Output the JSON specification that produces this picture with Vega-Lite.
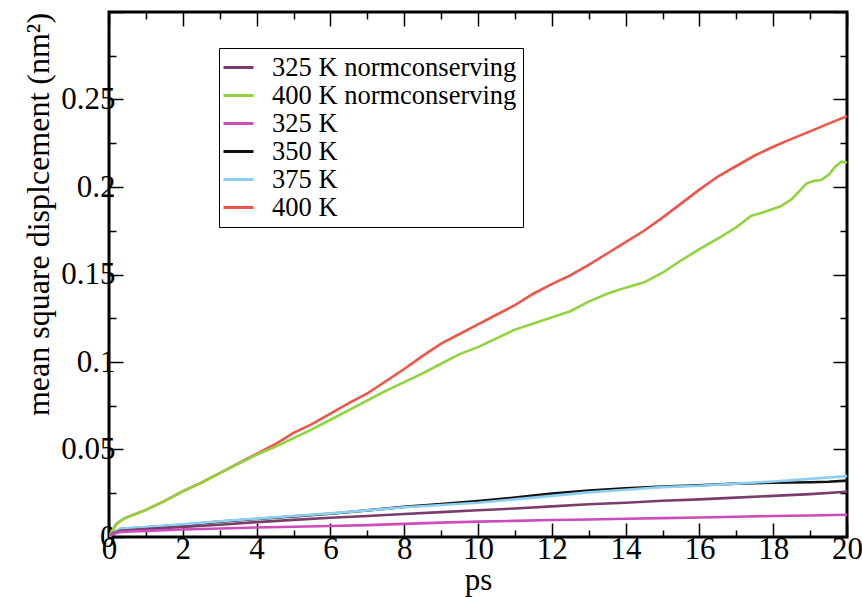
{
  "$schema": "https://vega.github.io/schema/vega-lite/v6.json",
  "width": 738,
  "height": 525,
  "autosize": {"type": "none"},
  "padding": {"left": 109, "top": 12, "right": 15, "bottom": 60},
  "background": "white",
  "config": {
    "font": "Liberation Serif",
    "view": {"stroke": "black", "strokeWidth": 3}
  },
  "data": {"values": [
    {"series": "400 K", "t": 0, "msd": 0},
    {"series": "400 K", "t": 0.1, "msd": 0.004},
    {"series": "400 K", "t": 0.2, "msd": 0.0075},
    {"series": "400 K", "t": 0.4, "msd": 0.0105},
    {"series": "400 K", "t": 0.7, "msd": 0.013},
    {"series": "400 K", "t": 1.0, "msd": 0.0155},
    {"series": "400 K", "t": 1.5, "msd": 0.0205},
    {"series": "400 K", "t": 2.0, "msd": 0.0262},
    {"series": "400 K", "t": 2.5, "msd": 0.031},
    {"series": "400 K", "t": 3.0, "msd": 0.0365},
    {"series": "400 K", "t": 3.5, "msd": 0.042},
    {"series": "400 K", "t": 4.0, "msd": 0.0475},
    {"series": "400 K", "t": 4.5, "msd": 0.053},
    {"series": "400 K", "t": 5.0, "msd": 0.0595},
    {"series": "400 K", "t": 5.5, "msd": 0.0645},
    {"series": "400 K", "t": 6.0, "msd": 0.0705},
    {"series": "400 K", "t": 6.5, "msd": 0.0765},
    {"series": "400 K", "t": 7.0, "msd": 0.082},
    {"series": "400 K", "t": 7.5, "msd": 0.089},
    {"series": "400 K", "t": 8.0, "msd": 0.096},
    {"series": "400 K", "t": 8.5, "msd": 0.1035},
    {"series": "400 K", "t": 9.0, "msd": 0.1105},
    {"series": "400 K", "t": 9.5, "msd": 0.116},
    {"series": "400 K", "t": 10.0, "msd": 0.1215},
    {"series": "400 K", "t": 10.5, "msd": 0.127},
    {"series": "400 K", "t": 11.0, "msd": 0.1325},
    {"series": "400 K", "t": 11.5, "msd": 0.139},
    {"series": "400 K", "t": 12.0, "msd": 0.1445},
    {"series": "400 K", "t": 12.5, "msd": 0.1495},
    {"series": "400 K", "t": 13.0, "msd": 0.1555},
    {"series": "400 K", "t": 13.5, "msd": 0.162},
    {"series": "400 K", "t": 14.0, "msd": 0.1685},
    {"series": "400 K", "t": 14.5, "msd": 0.175},
    {"series": "400 K", "t": 15.0, "msd": 0.1825},
    {"series": "400 K", "t": 15.5, "msd": 0.1905},
    {"series": "400 K", "t": 16.0, "msd": 0.1985},
    {"series": "400 K", "t": 16.5, "msd": 0.206},
    {"series": "400 K", "t": 17.0, "msd": 0.212},
    {"series": "400 K", "t": 17.5, "msd": 0.218},
    {"series": "400 K", "t": 18.0, "msd": 0.223},
    {"series": "400 K", "t": 18.5, "msd": 0.2275},
    {"series": "400 K", "t": 19.0, "msd": 0.2318},
    {"series": "400 K", "t": 19.5, "msd": 0.2362},
    {"series": "400 K", "t": 20.0, "msd": 0.2405},

    {"series": "400 K normconserving", "t": 0, "msd": 0},
    {"series": "400 K normconserving", "t": 0.1, "msd": 0.004},
    {"series": "400 K normconserving", "t": 0.2, "msd": 0.0075},
    {"series": "400 K normconserving", "t": 0.4, "msd": 0.0105},
    {"series": "400 K normconserving", "t": 0.7, "msd": 0.013},
    {"series": "400 K normconserving", "t": 1.0, "msd": 0.0155},
    {"series": "400 K normconserving", "t": 1.5, "msd": 0.0205},
    {"series": "400 K normconserving", "t": 2.0, "msd": 0.026},
    {"series": "400 K normconserving", "t": 2.5, "msd": 0.031},
    {"series": "400 K normconserving", "t": 3.0, "msd": 0.0365},
    {"series": "400 K normconserving", "t": 3.5, "msd": 0.0418},
    {"series": "400 K normconserving", "t": 4.0, "msd": 0.047},
    {"series": "400 K normconserving", "t": 4.5, "msd": 0.0515},
    {"series": "400 K normconserving", "t": 5.0, "msd": 0.0565},
    {"series": "400 K normconserving", "t": 5.5, "msd": 0.0615},
    {"series": "400 K normconserving", "t": 6.0, "msd": 0.067},
    {"series": "400 K normconserving", "t": 6.5, "msd": 0.0725},
    {"series": "400 K normconserving", "t": 7.0, "msd": 0.078},
    {"series": "400 K normconserving", "t": 7.5, "msd": 0.0835},
    {"series": "400 K normconserving", "t": 8.0, "msd": 0.0885},
    {"series": "400 K normconserving", "t": 8.5, "msd": 0.0935},
    {"series": "400 K normconserving", "t": 9.0, "msd": 0.099},
    {"series": "400 K normconserving", "t": 9.5, "msd": 0.1045},
    {"series": "400 K normconserving", "t": 10.0, "msd": 0.1085},
    {"series": "400 K normconserving", "t": 10.5, "msd": 0.1135},
    {"series": "400 K normconserving", "t": 11.0, "msd": 0.1185},
    {"series": "400 K normconserving", "t": 11.5, "msd": 0.122},
    {"series": "400 K normconserving", "t": 12.0, "msd": 0.1255},
    {"series": "400 K normconserving", "t": 12.5, "msd": 0.129},
    {"series": "400 K normconserving", "t": 13.0, "msd": 0.1345},
    {"series": "400 K normconserving", "t": 13.5, "msd": 0.139},
    {"series": "400 K normconserving", "t": 14.0, "msd": 0.1425},
    {"series": "400 K normconserving", "t": 14.5, "msd": 0.1455},
    {"series": "400 K normconserving", "t": 15.0, "msd": 0.151},
    {"series": "400 K normconserving", "t": 15.5, "msd": 0.158},
    {"series": "400 K normconserving", "t": 16.0, "msd": 0.1645},
    {"series": "400 K normconserving", "t": 16.5, "msd": 0.1705},
    {"series": "400 K normconserving", "t": 17.0, "msd": 0.177},
    {"series": "400 K normconserving", "t": 17.4, "msd": 0.1835},
    {"series": "400 K normconserving", "t": 17.8, "msd": 0.186},
    {"series": "400 K normconserving", "t": 18.2, "msd": 0.189},
    {"series": "400 K normconserving", "t": 18.5, "msd": 0.193},
    {"series": "400 K normconserving", "t": 18.7, "msd": 0.1975},
    {"series": "400 K normconserving", "t": 18.9, "msd": 0.202},
    {"series": "400 K normconserving", "t": 19.1, "msd": 0.2035},
    {"series": "400 K normconserving", "t": 19.3, "msd": 0.204},
    {"series": "400 K normconserving", "t": 19.5, "msd": 0.207},
    {"series": "400 K normconserving", "t": 19.7, "msd": 0.212},
    {"series": "400 K normconserving", "t": 19.85, "msd": 0.2145},
    {"series": "400 K normconserving", "t": 20.0, "msd": 0.214},

    {"series": "350 K", "t": 0, "msd": 0},
    {"series": "350 K", "t": 0.1, "msd": 0.002},
    {"series": "350 K", "t": 0.3, "msd": 0.0045},
    {"series": "350 K", "t": 0.6, "msd": 0.005},
    {"series": "350 K", "t": 1, "msd": 0.0055},
    {"series": "350 K", "t": 2, "msd": 0.007},
    {"series": "350 K", "t": 3, "msd": 0.0088},
    {"series": "350 K", "t": 4, "msd": 0.0103},
    {"series": "350 K", "t": 5, "msd": 0.0118},
    {"series": "350 K", "t": 6, "msd": 0.0133},
    {"series": "350 K", "t": 7, "msd": 0.0152},
    {"series": "350 K", "t": 8, "msd": 0.0172},
    {"series": "350 K", "t": 9, "msd": 0.0188},
    {"series": "350 K", "t": 10, "msd": 0.0206},
    {"series": "350 K", "t": 11, "msd": 0.0225},
    {"series": "350 K", "t": 12, "msd": 0.0248},
    {"series": "350 K", "t": 13, "msd": 0.0265},
    {"series": "350 K", "t": 14, "msd": 0.0278},
    {"series": "350 K", "t": 15, "msd": 0.0288},
    {"series": "350 K", "t": 16, "msd": 0.0296},
    {"series": "350 K", "t": 17, "msd": 0.0305},
    {"series": "350 K", "t": 18, "msd": 0.031},
    {"series": "350 K", "t": 19, "msd": 0.0313},
    {"series": "350 K", "t": 19.5, "msd": 0.0316},
    {"series": "350 K", "t": 20, "msd": 0.0322},

    {"series": "375 K", "t": 0, "msd": 0},
    {"series": "375 K", "t": 0.1, "msd": 0.002},
    {"series": "375 K", "t": 0.3, "msd": 0.0047},
    {"series": "375 K", "t": 0.6, "msd": 0.0052},
    {"series": "375 K", "t": 1, "msd": 0.0057},
    {"series": "375 K", "t": 2, "msd": 0.0072},
    {"series": "375 K", "t": 3, "msd": 0.009},
    {"series": "375 K", "t": 4, "msd": 0.0105},
    {"series": "375 K", "t": 5, "msd": 0.012},
    {"series": "375 K", "t": 6, "msd": 0.0135},
    {"series": "375 K", "t": 7, "msd": 0.0152},
    {"series": "375 K", "t": 8, "msd": 0.017},
    {"series": "375 K", "t": 9, "msd": 0.0183},
    {"series": "375 K", "t": 10, "msd": 0.0196},
    {"series": "375 K", "t": 11, "msd": 0.0215},
    {"series": "375 K", "t": 12, "msd": 0.0235},
    {"series": "375 K", "t": 13, "msd": 0.0255},
    {"series": "375 K", "t": 14, "msd": 0.027},
    {"series": "375 K", "t": 15, "msd": 0.0285},
    {"series": "375 K", "t": 16, "msd": 0.0293},
    {"series": "375 K", "t": 17, "msd": 0.0305},
    {"series": "375 K", "t": 18, "msd": 0.0317},
    {"series": "375 K", "t": 19, "msd": 0.0332},
    {"series": "375 K", "t": 20, "msd": 0.0348},

    {"series": "325 K normconserving", "t": 0, "msd": 0},
    {"series": "325 K normconserving", "t": 0.1, "msd": 0.002},
    {"series": "325 K normconserving", "t": 0.3, "msd": 0.0036},
    {"series": "325 K normconserving", "t": 0.6, "msd": 0.004},
    {"series": "325 K normconserving", "t": 1, "msd": 0.0045},
    {"series": "325 K normconserving", "t": 2, "msd": 0.0058},
    {"series": "325 K normconserving", "t": 3, "msd": 0.007},
    {"series": "325 K normconserving", "t": 4, "msd": 0.0085},
    {"series": "325 K normconserving", "t": 5, "msd": 0.0098},
    {"series": "325 K normconserving", "t": 6, "msd": 0.011},
    {"series": "325 K normconserving", "t": 7, "msd": 0.012},
    {"series": "325 K normconserving", "t": 8, "msd": 0.0131},
    {"series": "325 K normconserving", "t": 9, "msd": 0.0142},
    {"series": "325 K normconserving", "t": 10, "msd": 0.0153},
    {"series": "325 K normconserving", "t": 11, "msd": 0.0163},
    {"series": "325 K normconserving", "t": 12, "msd": 0.0175},
    {"series": "325 K normconserving", "t": 13, "msd": 0.0187},
    {"series": "325 K normconserving", "t": 14, "msd": 0.0196},
    {"series": "325 K normconserving", "t": 15, "msd": 0.0207},
    {"series": "325 K normconserving", "t": 16, "msd": 0.0215},
    {"series": "325 K normconserving", "t": 17, "msd": 0.0225},
    {"series": "325 K normconserving", "t": 18, "msd": 0.0235},
    {"series": "325 K normconserving", "t": 19, "msd": 0.0245},
    {"series": "325 K normconserving", "t": 20, "msd": 0.0259},

    {"series": "325 K", "t": 0, "msd": 0},
    {"series": "325 K", "t": 0.1, "msd": 0.0015},
    {"series": "325 K", "t": 0.3, "msd": 0.0029},
    {"series": "325 K", "t": 0.6, "msd": 0.0032},
    {"series": "325 K", "t": 1, "msd": 0.0035},
    {"series": "325 K", "t": 2, "msd": 0.0043},
    {"series": "325 K", "t": 3, "msd": 0.0049},
    {"series": "325 K", "t": 4, "msd": 0.0054},
    {"series": "325 K", "t": 5, "msd": 0.0059},
    {"series": "325 K", "t": 6, "msd": 0.0063},
    {"series": "325 K", "t": 7, "msd": 0.0068},
    {"series": "325 K", "t": 8, "msd": 0.0075},
    {"series": "325 K", "t": 9, "msd": 0.0082},
    {"series": "325 K", "t": 10, "msd": 0.0088},
    {"series": "325 K", "t": 11, "msd": 0.0092},
    {"series": "325 K", "t": 12, "msd": 0.0097},
    {"series": "325 K", "t": 13, "msd": 0.01},
    {"series": "325 K", "t": 14, "msd": 0.0104},
    {"series": "325 K", "t": 15, "msd": 0.0108},
    {"series": "325 K", "t": 16, "msd": 0.0111},
    {"series": "325 K", "t": 17, "msd": 0.0116},
    {"series": "325 K", "t": 18, "msd": 0.012},
    {"series": "325 K", "t": 19, "msd": 0.0123},
    {"series": "325 K", "t": 20, "msd": 0.0127}
  ]},
  "resolve": {"axis": {"x": "independent", "y": "independent"}},
  "layer": [
    {
      "mark": {"type": "line", "strokeWidth": 2.6, "clip": true},
      "encoding": {
        "x": {
          "field": "t", "type": "quantitative",
          "scale": {"domain": [0, 20], "nice": false},
          "axis": {
            "orient": "bottom",
            "domain": false,
            "grid": false,
            "title": "ps",
            "values": [0,1,2,3,4,5,6,7,8,9,10,11,12,13,14,15,16,17,18,19,20],
            "labelExpr": "datum.value % 2 === 0 ? format(datum.value, 'd') : ''",
            "tickSize": {"condition": {"test": "datum.value % 2 === 0", "value": -14}, "value": -7},
            "tickColor": "black",
            "tickWidth": 1.5,
            "labelFont": "Liberation Serif",
            "labelFontSize": 31,
            "labelColor": "black",
            "labelPadding": 11,
            "labelFlush": false,
            "labelOverlap": false,
            "titleFont": "Liberation Serif",
            "titleFontSize": 31,
            "titleFontWeight": "normal",
            "titleColor": "black",
            "titleY": 52,
            "titleBaseline": "alphabetic"
          }
        },
        "y": {
          "field": "msd", "type": "quantitative",
          "scale": {"domain": [0, 0.3], "nice": false},
          "axis": {
            "orient": "left",
            "domain": false,
            "grid": false,
            "title": "mean square displcement (nm²)",
            "values": [0,0.025,0.05,0.075,0.1,0.125,0.15,0.175,0.2,0.225,0.25,0.275,0.3],
            "labelExpr": "abs(datum.value/0.05 - round(datum.value/0.05)) < 0.000001 && datum.value < 0.29 ? format(datum.value, '~g') : ''",
            "tickSize": {"condition": {"test": "abs(datum.value/0.05 - round(datum.value/0.05)) < 0.000001", "value": -14}, "value": -7},
            "tickColor": "black",
            "tickWidth": 1.5,
            "labelFont": "Liberation Serif",
            "labelFontSize": 31,
            "labelColor": "black",
            "labelPadding": 8,
            "labelFlush": false,
            "labelOverlap": false,
            "titleFont": "Liberation Serif",
            "titleFontSize": 32,
            "titleFontWeight": "normal",
            "titleColor": "black",
            "titleX": -71,
            "titleY": 202,
            "titleAngle": -90,
            "titleAlign": "center",
            "titleBaseline": "middle"
          }
        },
        "color": {
          "field": "series", "type": "nominal",
          "scale": {
            "domain": ["325 K normconserving", "400 K normconserving", "325 K", "350 K", "375 K", "400 K"],
            "range": ["#7a3c6c", "#8fd43c", "#cc4cbc", "#111111", "#8dcff0", "#ef5548"]
          },
          "legend": {
            "title": null,
            "orient": "none",
            "legendX": 110,
            "legendY": 36,
            "strokeColor": "black",
            "fillColor": "white",
            "padding": 6,
            "symbolType": "M-1.25,0H1.25",
            "symbolSize": 576,
            "symbolStrokeWidth": 3,
            "labelFont": "Liberation Serif",
            "labelFontSize": 26.5,
            "labelColor": "black",
            "labelOffset": 20,
            "rowPadding": 1,
            "labelLimit": 400
          }
        }
      }
    },
    {
      "mark": {"type": "line", "strokeOpacity": 0},
      "encoding": {
        "detail": {"field": "series", "type": "nominal"},
        "x": {
          "field": "t", "type": "quantitative",
          "scale": {"domain": [0, 20], "nice": false},
          "axis": {
            "orient": "top",
            "domain": false,
            "grid": false,
            "title": null,
            "labels": false,
            "tickColor": "black",
            "tickWidth": 1.5,
            "values": [0,1,2,3,4,5,6,7,8,9,10,11,12,13,14,15,16,17,18,19,20],
            "tickSize": {"condition": {"test": "datum.value % 2 === 0", "value": -14}, "value": -7}
          }
        },
        "y": {
          "field": "msd", "type": "quantitative",
          "scale": {"domain": [0, 0.3], "nice": false},
          "axis": {
            "orient": "right",
            "domain": false,
            "grid": false,
            "title": null,
            "labels": false,
            "tickColor": "black",
            "tickWidth": 1.5,
            "values": [0,0.025,0.05,0.075,0.1,0.125,0.15,0.175,0.2,0.225,0.25,0.275,0.3],
            "tickSize": {"condition": {"test": "abs(datum.value/0.05 - round(datum.value/0.05)) < 0.000001", "value": -14}, "value": -7}
          }
        }
      }
    }
  ]
}
